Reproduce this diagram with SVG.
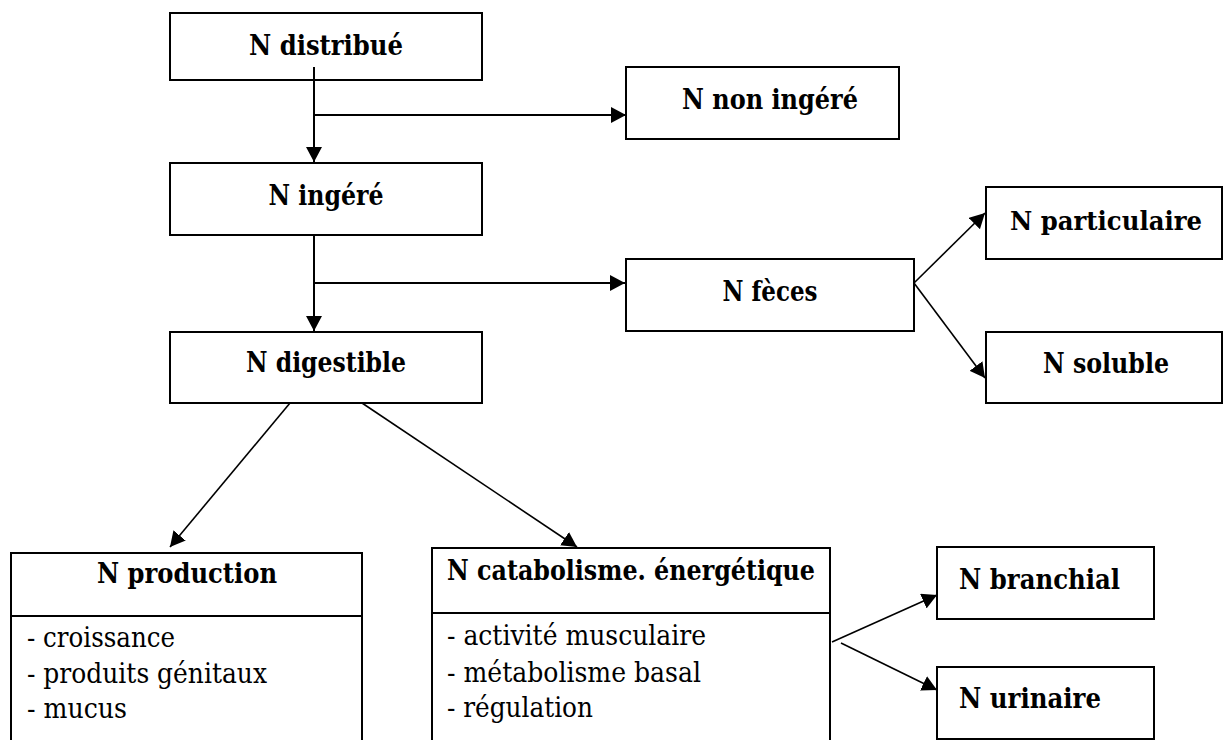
<svg xmlns="http://www.w3.org/2000/svg" width="1223" height="740" viewBox="0 0 1223 740">
<style>
.box{fill:#fff;stroke:#000;stroke-width:2}
.t{font-family:"DejaVu Serif","Liberation Serif",serif;font-size:28px;font-weight:bold;fill:#000}
.l{font-family:"DejaVu Serif","Liberation Serif",serif;font-size:28px;font-weight:normal;fill:#000}
.c{fill:none;stroke:#000;stroke-width:2}
.d{fill:none;stroke:#000;stroke-width:1.6}
</style>
<defs>
<marker id="ah" markerUnits="userSpaceOnUse" markerWidth="16" markerHeight="16" refX="15" refY="8" orient="auto" viewBox="0 0 16 16">
<path d="M0,0 L15,8 L0,16 Z" fill="#000"/>
</marker>
</defs>
<rect width="1223" height="740" fill="#fff"/>
<g id="n-distribue"><rect class="box" x="170" y="13" width="312" height="67"/><text class="t" x="326" y="55" text-anchor="middle" textLength="154" lengthAdjust="spacingAndGlyphs">N distribué</text></g>
<g id="n-non-ingere"><rect class="box" x="626" y="67" width="273" height="72"/><text class="t" x="770" y="109" text-anchor="middle" textLength="176" lengthAdjust="spacingAndGlyphs">N non ingéré</text></g>
<g id="n-ingere"><rect class="box" x="170" y="163" width="312" height="72"/><text class="t" x="326" y="205" text-anchor="middle" textLength="115" lengthAdjust="spacingAndGlyphs">N ingéré</text></g>
<g id="n-feces"><rect class="box" x="626" y="259" width="288" height="72"/><text class="t" x="770" y="301" text-anchor="middle" textLength="95" lengthAdjust="spacingAndGlyphs">N fèces</text></g>
<g id="n-particulaire"><rect class="box" x="986" y="187" width="236" height="72"/><text class="t" x="1106" y="230" text-anchor="middle" style="font-size:26px" textLength="192" lengthAdjust="spacingAndGlyphs">N particulaire</text></g>
<g id="n-soluble"><rect class="box" x="986" y="332" width="236" height="71"/><text class="t" x="1106" y="373" text-anchor="middle" textLength="126" lengthAdjust="spacingAndGlyphs">N soluble</text></g>
<g id="n-digestible"><rect class="box" x="170" y="332" width="312" height="71"/><text class="t" x="326" y="372" text-anchor="middle" textLength="160" lengthAdjust="spacingAndGlyphs">N digestible</text></g>
<g id="n-production"><rect class="box" x="11" y="553" width="351" height="200"/><line class="c" x1="11" y1="616" x2="362" y2="616"/><text class="t" x="187" y="583" text-anchor="middle" textLength="180" lengthAdjust="spacingAndGlyphs">N production</text><text class="l" x="27" y="647" textLength="148" lengthAdjust="spacingAndGlyphs">- croissance</text><text class="l" x="27" y="683" textLength="240" lengthAdjust="spacingAndGlyphs">- produits génitaux</text><text class="l" x="27" y="718" textLength="100" lengthAdjust="spacingAndGlyphs">- mucus</text></g>
<g id="n-catabolisme"><rect class="box" x="432" y="548" width="398" height="205"/><line class="c" x1="432" y1="613" x2="830" y2="613"/><text class="t" x="631" y="580" text-anchor="middle" textLength="368" lengthAdjust="spacingAndGlyphs">N catabolisme. énergétique</text><text class="l" x="447" y="645" textLength="259" lengthAdjust="spacingAndGlyphs">- activité musculaire</text><text class="l" x="447" y="682" textLength="254" lengthAdjust="spacingAndGlyphs">- métabolisme basal</text><text class="l" x="447" y="717" textLength="146" lengthAdjust="spacingAndGlyphs">- régulation</text></g>
<g id="n-branchial"><rect class="box" x="937" y="547" width="217" height="72"/><text class="t" x="959" y="589" textLength="161" lengthAdjust="spacingAndGlyphs">N branchial</text></g>
<g id="n-urinaire"><rect class="box" x="937" y="667" width="217" height="72"/><text class="t" x="959" y="708" textLength="142" lengthAdjust="spacingAndGlyphs">N urinaire</text></g>
<g id="connectors">
<line class="c" x1="314" y1="67" x2="314" y2="162" marker-end="url(#ah)"/>
<line class="c" x1="314" y1="115" x2="626" y2="115" marker-end="url(#ah)"/>
<line class="c" x1="314" y1="235" x2="314" y2="331" marker-end="url(#ah)"/>
<line class="c" x1="314" y1="283" x2="625" y2="283" marker-end="url(#ah)"/>
<line class="d" x1="914" y1="283" x2="985" y2="213" marker-end="url(#ah)"/>
<line class="d" x1="914" y1="283" x2="985" y2="378" marker-end="url(#ah)"/>
<line class="d" x1="290" y1="403" x2="170" y2="547" marker-end="url(#ah)"/>
<line class="d" x1="362" y1="403" x2="577" y2="547" marker-end="url(#ah)"/>
<line class="d" x1="832" y1="642" x2="937" y2="595" marker-end="url(#ah)"/>
<line class="d" x1="841" y1="643" x2="937" y2="690" marker-end="url(#ah)"/>
</g>
</svg>
